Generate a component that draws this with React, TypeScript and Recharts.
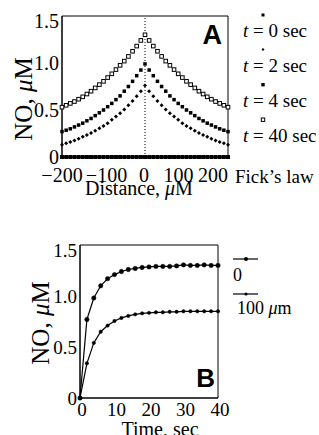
import React from "react";
import {
  ScatterChart,
  Scatter,
  LineChart,
  Line,
  XAxis,
  YAxis,
  ReferenceArea,
  ReferenceLine,
} from "recharts";

// ---------- Panel A data ----------
const distances = [
  -200, -190, -180, -170, -160, -150, -140, -130, -120, -110, -100, -90, -80, -70, -60, -50, -40, -30, -20, -10,
  0, 10, 20, 30, 40, 50, 60, 70, 80, 90, 100, 110, 120, 130, 140, 150, 160, 170, 180, 190, 200,
];
const t0Values = [
  0, 0, 0, 0, 0, 0, 0, 0, 0, 0, 0, 0, 0, 0, 0, 0, 0, 0, 0, 0,
  0, 0, 0, 0, 0, 0, 0, 0, 0, 0, 0, 0, 0, 0, 0, 0, 0, 0, 0, 0, 0,
];
const t2Values = [
  0.13, 0.145, 0.16, 0.175, 0.195, 0.215, 0.235, 0.255, 0.28, 0.305, 0.33, 0.36, 0.395, 0.43, 0.465, 0.505, 0.55, 0.595, 0.645, 0.70,
  0.76, 0.70, 0.645, 0.595, 0.55, 0.505, 0.465, 0.43, 0.395, 0.36, 0.33, 0.305, 0.28, 0.255, 0.235, 0.215, 0.195, 0.175, 0.16, 0.145, 0.13,
];
const t4Values = [
  0.27, 0.285, 0.30, 0.32, 0.34, 0.36, 0.385, 0.41, 0.44, 0.47, 0.50, 0.535, 0.57, 0.61, 0.65, 0.70, 0.75, 0.805, 0.865, 0.925,
  0.99, 0.925, 0.865, 0.805, 0.75, 0.70, 0.65, 0.61, 0.57, 0.535, 0.50, 0.47, 0.44, 0.41, 0.385, 0.36, 0.34, 0.32, 0.30, 0.285, 0.27,
];
const t40Values = [
  0.53, 0.55, 0.57, 0.59, 0.615, 0.64, 0.67, 0.70, 0.735, 0.77, 0.805, 0.845, 0.885, 0.93, 0.975, 1.02, 1.07, 1.125, 1.18, 1.24,
  1.30, 1.24, 1.18, 1.125, 1.07, 1.02, 0.975, 0.93, 0.885, 0.845, 0.805, 0.77, 0.735, 0.70, 0.67, 0.64, 0.615, 0.59, 0.57, 0.55, 0.53,
];
const distanceTicks = [-200, -100, 0, 100, 200];
const concTicks = [0, 0.5, 1.0, 1.5];
const legendA = ["0", "2", "4", "40"];

// ---------- Panel B data ----------
const times = [0, 2, 4, 6, 8, 10, 12, 14, 16, 18, 20, 22, 24, 26, 28, 30, 32, 34, 36, 38, 40];
const at0Values = [0, 0.77, 0.98, 1.1, 1.17, 1.21, 1.24, 1.26, 1.27, 1.28, 1.285, 1.29, 1.29, 1.29, 1.295, 1.305, 1.3, 1.3, 1.305, 1.3, 1.3];
const at100Values = [0, 0.34, 0.54, 0.65, 0.71, 0.755, 0.785, 0.805, 0.82, 0.83, 0.835, 0.84, 0.84, 0.845, 0.845, 0.85, 0.85, 0.85, 0.85, 0.85, 0.85];
const timeTicks = [0, 10, 20, 30, 40];

const serif = "'Liberation Serif', 'DejaVu Serif', serif";
const sans = "'Liberation Sans', Arial, sans-serif";

const mk = (vals: number[]) => distances.map((x, i) => ({ x, y: vals[i] }));
const dataT0 = mk(t0Values);
const dataT2 = mk(t2Values);
const dataT4 = mk(t4Values);
const dataT40 = mk(t40Values);

const dataB = times.map((t, i) => ({ t, a: at0Values[i], b: at100Values[i] }));

const fmtDist = (v: number) => (v < 0 ? "\u2212" + Math.abs(v) : String(v));
const fmtConc = (v: number) => (v === 0 ? "0" : v.toFixed(1));

const sqFilled = (s: number) => (p: any) =>
  <rect x={p.cx - s / 2} y={p.cy - s / 2} width={s} height={s} fill="#000" />;
const diamond = (s: number) => (p: any) =>
  <path d={`M${p.cx},${p.cy - s} L${p.cx + s},${p.cy} L${p.cx},${p.cy + s} L${p.cx - s},${p.cy} Z`} fill="#000" />;
const sqOpen = (s: number) => (p: any) =>
  <rect x={p.cx - s / 2} y={p.cy - s / 2} width={s} height={s} fill="#fff" stroke="#000" strokeWidth={1} />;

// horizontal nudges of the distance tick labels, as placed in the reference
const distShift: Record<string, number> = { "-200": 0, "-100": 3, "0": -1, "100": -8, "200": -15 };

const DistTick = (p: any) => {
  const v = p.payload.value;
  return (
    <text x={p.x + (distShift[String(v)] ?? 0)} y={p.y + 9} dy="0.71em" textAnchor="middle" fontFamily={serif} fontSize={20} fill="#000">
      {fmtDist(v)}
    </text>
  );
};
const TimeTick = (p: any) => (
  <text x={p.x + 2} y={p.y + 3} dy="0.71em" textAnchor="middle" fontFamily={serif} fontSize={19} fill="#000">
    {p.payload.value}
  </text>
);
const ConcTick = (size: number) => (p: any) => {
  const v = p.payload.value;
  return (
    <text x={p.x - 1} y={p.y + (v === 1.5 ? 5 : 0)} dy="0.355em" textAnchor="end" fontFamily={serif} fontSize={size} fill="#000">
      {fmtConc(v)}
    </text>
  );
};

const YLabel = (cx: number, cy: number) => (props: any) => (
  <text
    x={cx}
    y={cy}
    transform={`rotate(-90 ${cx} ${cy})`}
    textAnchor="middle"
    dominantBaseline="central"
    fontFamily={serif}
    fontSize={25}
    fill="#000"
  >
    NO, <tspan fontStyle="italic">μ</tspan>M
  </text>
);

export default function App() {
  return (
    <div style={{ position: "absolute", left: 0, top: 0, width: 319, height: 435, background: "#fff" }}>
      {/* Panel A */}
      <div style={{ position: "absolute", left: 0, top: 0 }}>
        <ScatterChart width={319} height={200} margin={{ top: 16, right: 91, left: 2, bottom: 0 }}>
          <XAxis
            type="number"
            dataKey="x"
            domain={[-200, 200]}
            ticks={distanceTicks}
            tickLine={false}
            tickSize={0}
            axisLine={{ stroke: "#000" }}
            tick={DistTick}
            height={43}
            interval={0}
            label={(p: any) => (
              <text x={139} y={195} textAnchor="middle" fontFamily={serif} fontSize={20} fill="#000">
                Distance, <tspan fontStyle="italic">μ</tspan>M
              </text>
            )}
          />
          <YAxis
            type="number"
            dataKey="y"
            domain={[0, 1.5]}
            ticks={concTicks}
            tickLine={false}
            tickSize={0}
            axisLine={{ stroke: "#000" }}
            tick={ConcTick(20)}
            width={60}
            interval={0}
            label={YLabel(23, 99)}
          />
          <ReferenceArea x1={-200} x2={200} y1={0} y2={1.5} fill="none" stroke="#000" strokeWidth={1} ifOverflow="visible" />
          <ReferenceLine x={0} stroke="#000" strokeDasharray="1 2" strokeWidth={1} />
          <Scatter data={dataT0} shape={sqFilled(4)} isAnimationActive={false} />
          <Scatter data={dataT2} shape={diamond(2)} isAnimationActive={false} />
          <Scatter data={dataT4} shape={sqFilled(3.5)} isAnimationActive={false} />
          <Scatter data={dataT40} shape={sqOpen(3.6)} isAnimationActive={false} />
        </ScatterChart>
      </div>

      {/* Panel B */}
      <div style={{ position: "absolute", left: 0, top: 230 }}>
        <LineChart width={319} height={205} data={dataB} margin={{ top: 15, right: 101, left: 20, bottom: 0 }}>
          <XAxis
            type="number"
            dataKey="t"
            domain={[0, 40]}
            ticks={timeTicks}
            tickLine={false}
            tickSize={0}
            axisLine={{ stroke: "#000" }}
            tick={TimeTick}
            height={37}
            interval={0}
            label={(p: any) => (
              <text x={160} y={206} textAnchor="middle" fontFamily={serif} fontSize={20} fill="#000">
                Time, sec
              </text>
            )}
          />
          <YAxis
            type="number"
            domain={[0, 1.5]}
            ticks={concTicks}
            tickLine={false}
            tickSize={0}
            axisLine={{ stroke: "#000" }}
            tick={ConcTick(19)}
            width={60}
            interval={0}
            label={YLabel(40, 93)}
          />
          <ReferenceArea x1={0} x2={40} y1={0} y2={1.5} fill="none" stroke="#000" strokeWidth={1} ifOverflow="visible" />
          <Line dataKey="a" stroke="#000" strokeWidth={1.2} dot={{ r: 2.2, fill: "#000", stroke: "#000", strokeWidth: 0.5 }} isAnimationActive={false} />
          <Line dataKey="b" stroke="#000" strokeWidth={1.2} dot={{ r: 1.7, fill: "#000", stroke: "#000", strokeWidth: 0.5 }} isAnimationActive={false} />
        </LineChart>
      </div>

      {/* Overlay: legends and panel letters */}
      <svg width={319} height={435} style={{ position: "absolute", left: 0, top: 0, pointerEvents: "none" }}>
        <text x={222} y={44} textAnchor="end" fontFamily={sans} fontWeight="bold" fontSize={27} fill="#000">A</text>
        <text x={215} y={387} textAnchor="end" fontFamily={sans} fontWeight="bold" fontSize={26} fill="#000">B</text>

        {/* Legend A */}
        <rect x={261.5} y={13.5} width={3} height={3} fill="#000" />
        <path d="M263,48 L264.5,49.5 L263,51 L261.5,49.5 Z" fill="#000" />
        <rect x={261.3} y={83} width={3.4} height={3.4} fill="#000" />
        <rect x={261.3} y={118} width={3.4} height={3.4} fill="#fff" stroke="#000" strokeWidth={1} />
        {legendA.map((v, i) => (
          <text key={v} x={243} y={37 + i * 35} fontFamily={serif} fontSize={19} fill="#000">
            <tspan fontStyle="italic">t</tspan> = {v} sec
          </text>
        ))}
        <text x={235} y={183} fontFamily={serif} fontSize={19} fill="#000">Fick’s law</text>

        {/* Legend B */}
        <line x1={233} x2={258} y1={259} y2={259} stroke="#000" strokeWidth={1.2} />
        <circle cx={246} cy={259} r={2} fill="#000" />
        <text x={233} y={281} fontFamily={serif} fontSize={18} fill="#000">0</text>
        <line x1={233} x2={258} y1={294} y2={294} stroke="#000" strokeWidth={1.2} />
        <circle cx={246} cy={294} r={1.6} fill="#000" />
        <text x={237} y={314} fontFamily={serif} fontSize={18} fill="#000">
          100 <tspan fontStyle="italic">μ</tspan>m
        </text>
      </svg>
    </div>
  );
}
